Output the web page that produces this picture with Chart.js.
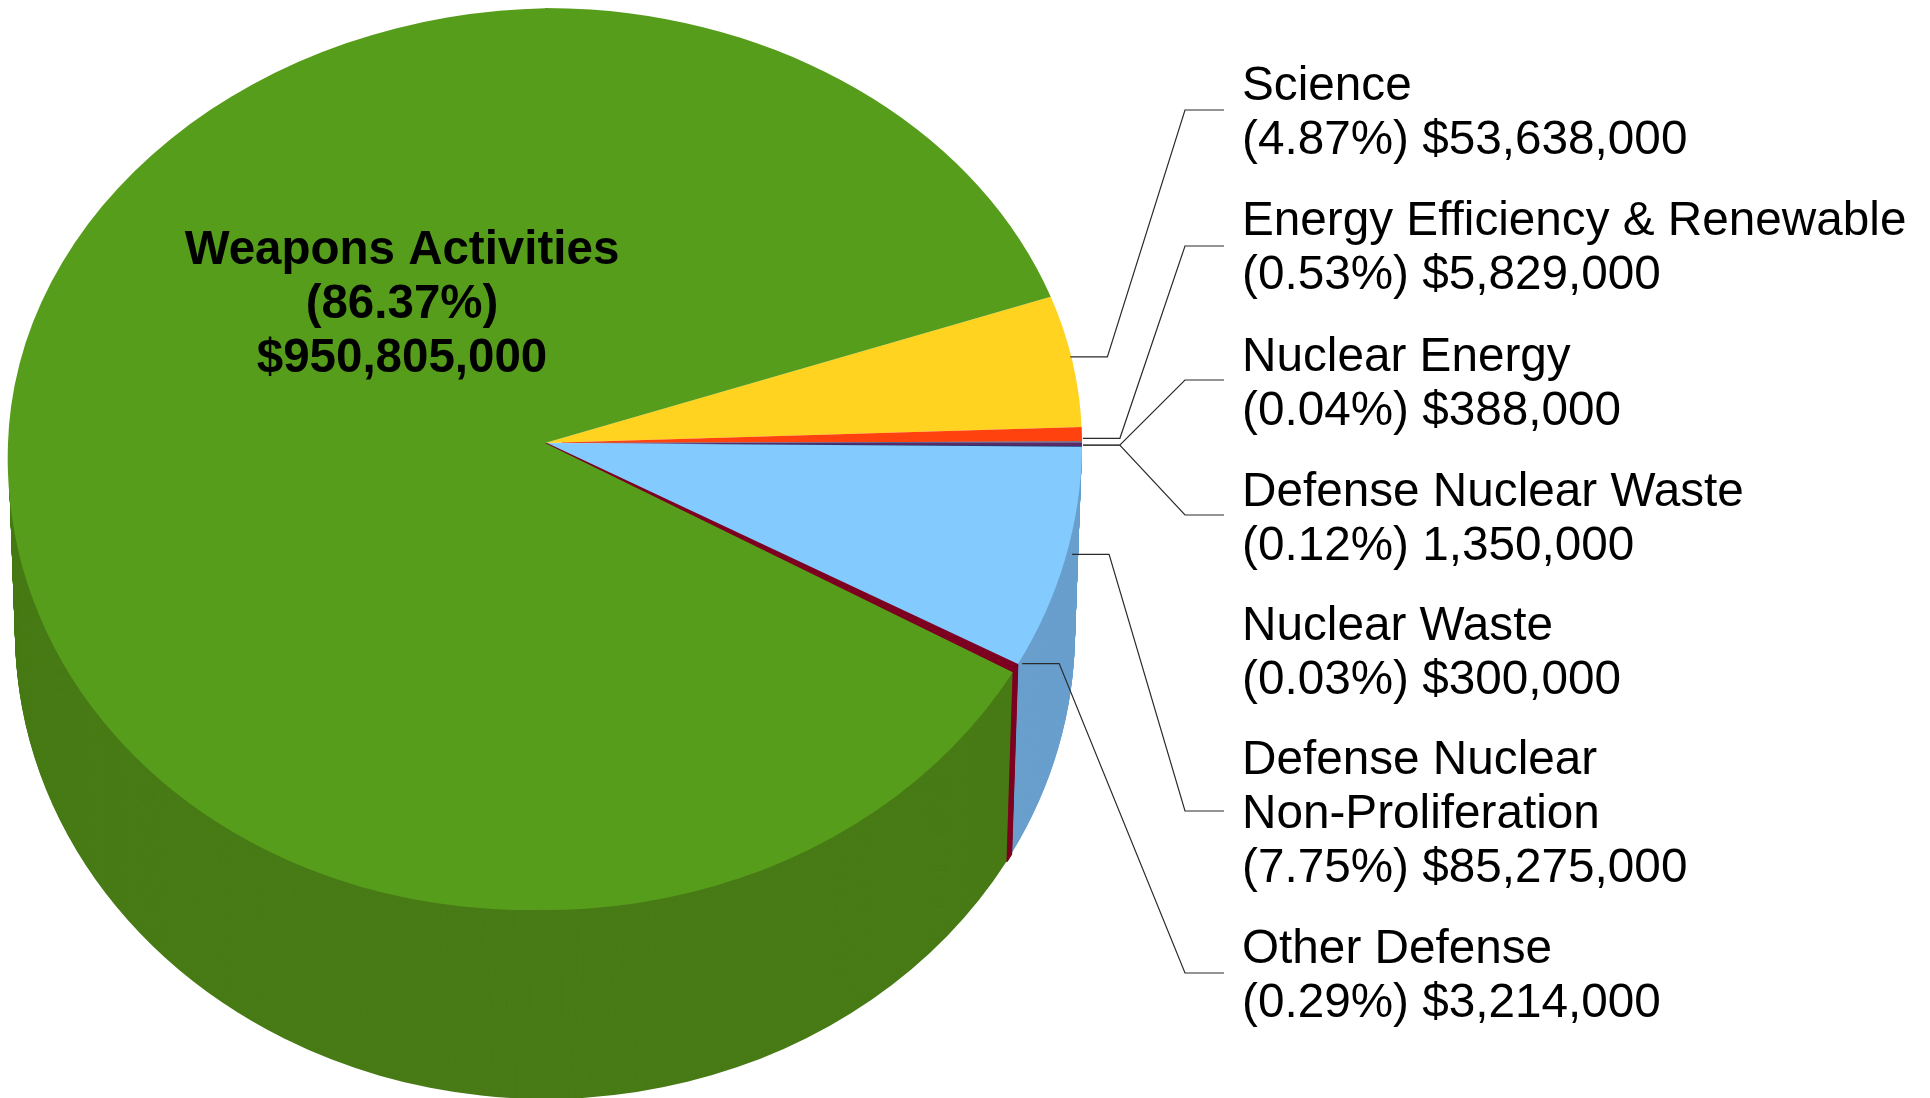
<!DOCTYPE html>
<html>
<head>
<meta charset="utf-8">
<title>Department of Energy budget</title>
<script src="https://cdn.jsdelivr.net/npm/chart.js@4/dist/chart.umd.js"></script>
<style>
  html, body { margin: 0; padding: 0; background: #fff; overflow: hidden; }
  canvas { display: block; }
</style>
</head>
<body>
<canvas id="pie" width="1930" height="1098"></canvas>
<script>
// slices, clockwise from the edge between Weapons Activities and Science
const categories = ["Science", "Energy Efficiency & Renewable", "Nuclear Energy", "Defense Nuclear Waste",
  "Nuclear Waste", "Defense Nuclear Non-Proliferation", "Other Defense", "Weapons Activities"];
const amounts = [53638000, 5829000, 388000, 1350000, 300000, 85275000, 3214000, 950805000];
const percentLabels = ["4.87%", "0.53%", "0.04%", "0.12%", "0.03%", "7.75%", "0.29%", "86.37%"];
const amountLabels = ["$53,638,000", "$5,829,000", "$388,000", "1,350,000", "$300,000", "$85,275,000", "$3,214,000", "$950,805,000"];

const topColors = ["#ffd320", "#ff420e", "#004586", "#5b2a66", "#004586", "#83caff", "#7e0021", "#579d1c"];
const wallColors = ["#c9a71a", "#c9340b", "#00366a", "#472150", "#00366a", "#699fcd", "#7e0021", "#487b16"];
const sliceBorders = [0, 0, 0, 0, 0, 0, 2, 0];

// label column, one entry per slice (first line baseline, leader tweaks from the slice edge)
const labelX = 1242;
const lineGap = 54;
const labelLines = [["Science"], ["Energy Efficiency & Renewable"], ["Nuclear Energy"], ["Defense Nuclear Waste"],
  ["Nuclear Waste"], ["Defense Nuclear", "Non-Proliferation"], ["Other Defense"]];
const labelY = [99.5, 234.5, 370.5, 505.5, 639.5, 773.5, 962.5];
const leaderEndY = [110, 246, 380, 515, null, 811, 973];
const leaderDx = [-2, 1, 1, 1, 0, 7, 7];
const leaderDy = [-4, 4, 3, 1, 0, -5, -5];

// 3D look: the flat pie is squashed, upper and lower halves differ because of the perspective
const centerX = 545, centerY = 443, radius = 537;
const upScale = 435 / radius, downScale = 467 / radius;
const upLeftShear = -14 / radius, downLeftShear = -18 / radius;
const wallDepth = 189, wallRadiusX = 530 / radius;

function drawArcs(ctx, arcs, colors) {
  arcs.forEach((arc, i) => {
    if (!colors) { arc.draw(ctx); return; }
    const wall = Object.create(arc);
    wall.options = Object.create(arc.options, {
      backgroundColor: { value: colors[i] },
      borderColor: { value: colors[i] }
    });
    wall.draw(ctx);
  });
}

function drawPart(ctx, arcs, rect, m, colors) {
  ctx.save();
  ctx.beginPath();
  ctx.rect(rect[0], rect[1], rect[2], rect[3]);
  ctx.clip();
  ctx.translate(centerX, m.y);
  ctx.transform(m.sx, 0, m.shear, m.sy, 0, 0);
  ctx.translate(-arcs[0].x, -arcs[0].y);
  drawArcs(ctx, arcs, colors);
  ctx.restore();
}

const pie3d = {
  id: "pie3d",
  beforeDatasetDraw(chart, args) {
    const ctx = chart.ctx;
    const arcs = args.meta.data;
    // side wall, stacked from the bottom up
    for (let d = wallDepth; d > 0; d--) {
      const y = centerY + d;
      const sx = 1 + (wallRadiusX - 1) * d / wallDepth;
      drawPart(ctx, arcs, [0, y, 1930, 1098 - y], { y, sx, sy: downScale, shear: 0 }, wallColors);
    }
    // top face, one piece per quadrant
    drawPart(ctx, arcs, [centerX, 0, 1930, centerY], { y: centerY, sx: 1, sy: upScale, shear: 0 });
    drawPart(ctx, arcs, [0, 0, centerX, centerY], { y: centerY, sx: 1, sy: upScale, shear: upLeftShear });
    drawPart(ctx, arcs, [centerX, centerY, 1930, 1098], { y: centerY, sx: 1, sy: downScale, shear: 0 });
    drawPart(ctx, arcs, [0, centerY, centerX, 1098], { y: centerY, sx: 1, sy: downScale, shear: downLeftShear });
    return false;
  },
  afterDraw(chart) {
    const ctx = chart.ctx;
    const arcs = chart.getDatasetMeta(0).data;
    ctx.save();
    ctx.fillStyle = "#000";
    ctx.textBaseline = "alphabetic";

    labelLines.forEach((lines, i) => {
      ctx.font = "47.7px 'Liberation Sans'";
      ctx.textAlign = "left";
      lines.concat("(" + percentLabels[i] + ") " + amountLabels[i]).forEach((text, k) => {
        ctx.fillText(text, labelX, labelY[i] + k * lineGap);
      });

      if (leaderEndY[i] === null) return;
      const mid = (arcs[i].startAngle + arcs[i].endAngle) / 2;
      const sy = Math.sin(mid) < 0 ? upScale : downScale;
      const x = centerX + radius * Math.cos(mid) + leaderDx[i];
      const y = centerY + radius * sy * Math.sin(mid) + leaderDy[i];
      ctx.strokeStyle = "#2a2a2a";
      ctx.lineWidth = 1.2;
      ctx.beginPath();
      ctx.moveTo(x, y);
      ctx.lineTo(x + 37, y);
      ctx.lineTo(1185, leaderEndY[i]);
      ctx.lineTo(1224, leaderEndY[i]);
      ctx.stroke();
    });

    // big slice is labelled on the slice itself
    ctx.font = "bold 47.5px 'Liberation Sans'";
    ctx.textAlign = "center";
    ctx.fillText(categories[7], 402, 264);
    ctx.fillText("(" + percentLabels[7] + ")", 402, 318);
    ctx.fillText(amountLabels[7], 402, 372);
    ctx.restore();
  }
};

new Chart(document.getElementById("pie"), {
  type: "pie",
  data: {
    labels: categories,
    datasets: [{
      data: amounts,
      backgroundColor: topColors,
      borderColor: topColors,
      borderWidth: sliceBorders,
      radius: radius
    }]
  },
  options: {
    responsive: false,
    animation: false,
    devicePixelRatio: 1,
    rotation: 70.36,
    layout: { padding: { right: 1930 - 2 * centerX, bottom: 1098 - 2 * centerY } },
    plugins: { legend: { display: false }, tooltip: { enabled: false } }
  },
  plugins: [pie3d]
});
</script>
</body>
</html>
